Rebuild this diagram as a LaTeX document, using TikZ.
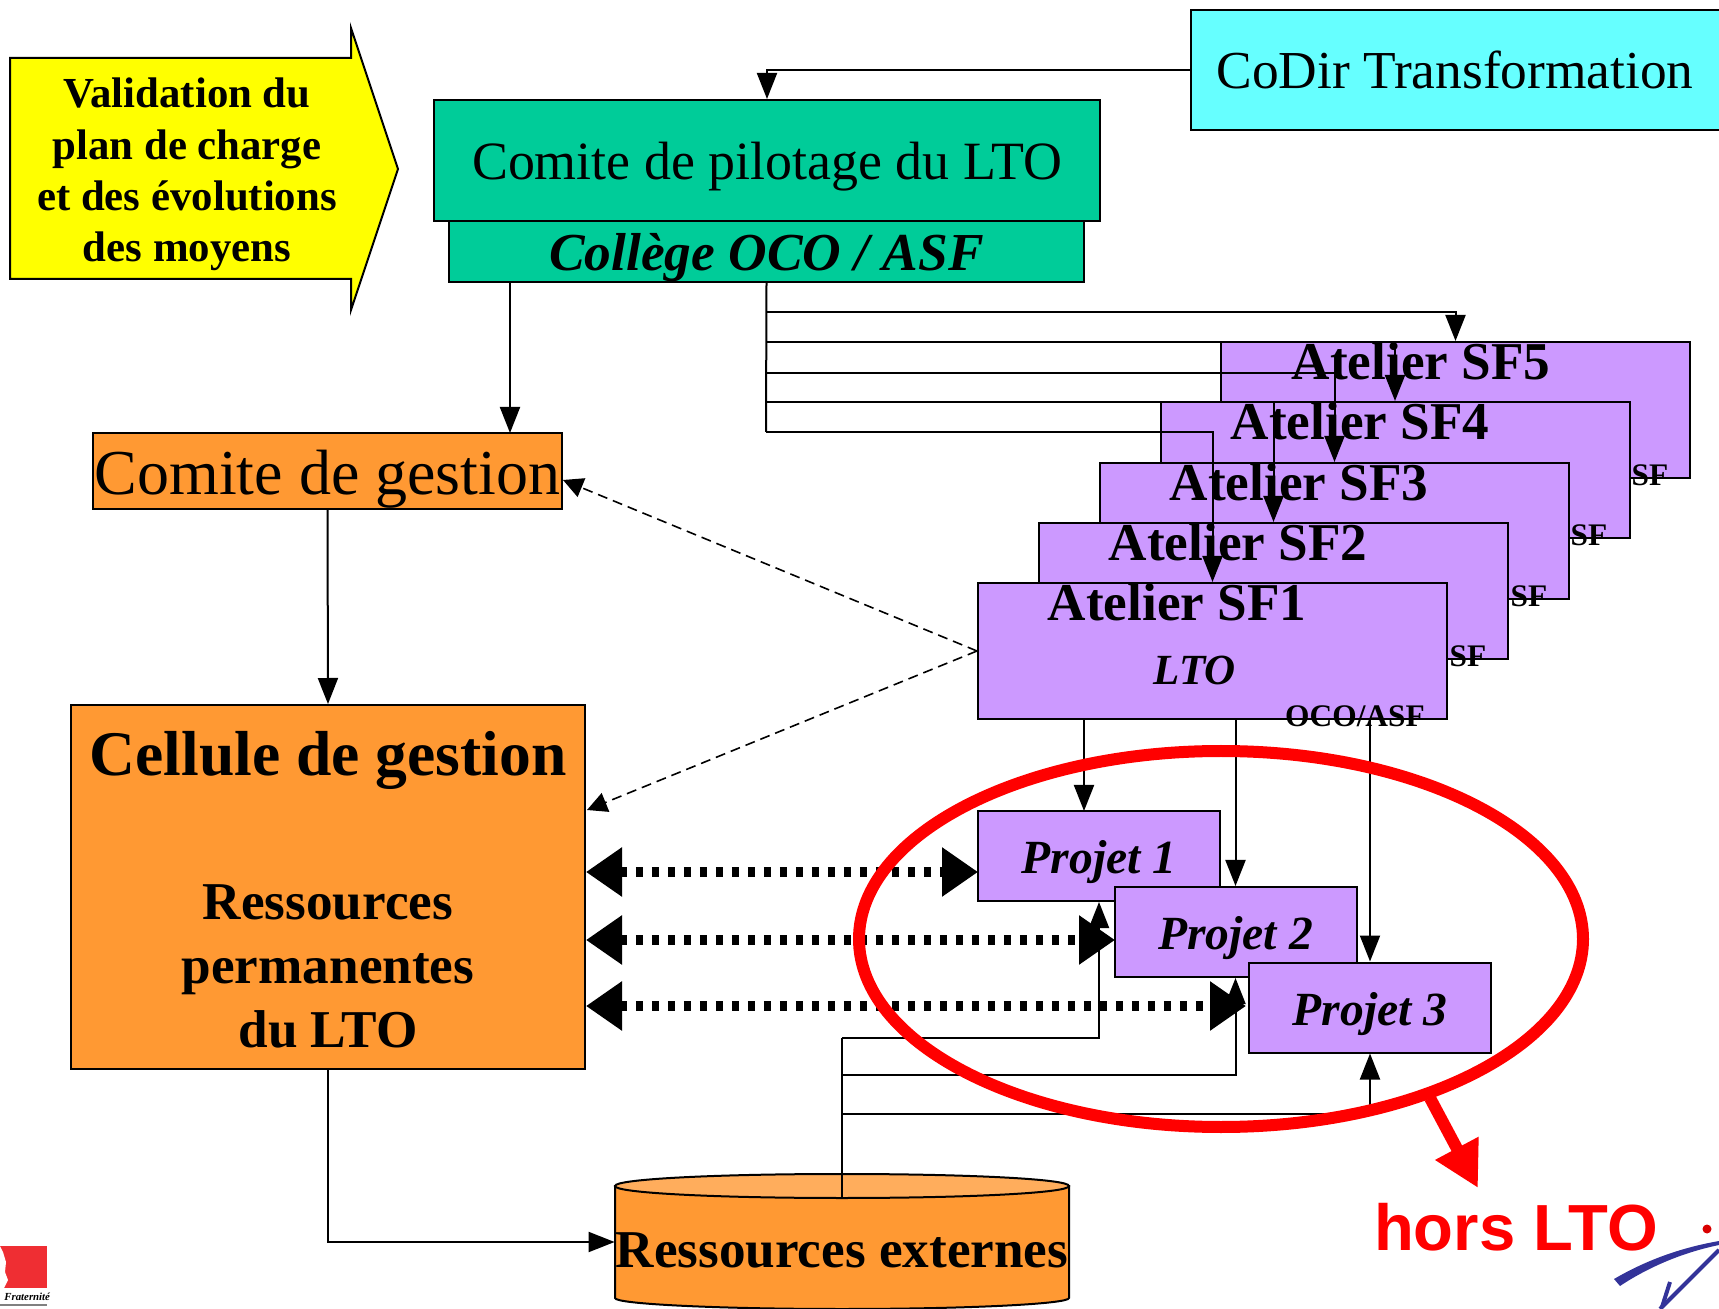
\documentclass[tikz,border=0pt]{standalone}
\usepackage{fontspec}
\setmainfont{Liberation Serif}
\newfontfamily\horsfont{Liberation Sans}
\usetikzlibrary{shapes.geometric,arrows.meta}
\definecolor{arrowyellow}{HTML}{FFFF00}
\definecolor{lightcyan}{HTML}{66FFFF}
\definecolor{teal}{HTML}{00CC99}
\definecolor{mauve}{HTML}{CC99FF}
\definecolor{orangebox}{HTML}{FF9933}
\definecolor{orangetop}{HTML}{FFAD5C}
\definecolor{marine}{HTML}{333399}
\definecolor{logored}{HTML}{EF2E33}
\newcommand{\fsize}[1]{\fontsize{#1}{#1}\selectfont}

\begin{document}
\begin{tikzpicture}[x=0.5pt,y=-0.5pt,
    box/.style={shape=rectangle, draw, line width=1pt, inner sep=0pt},
    atelier/.style={box, fill=mauve, minimum width=234.5pt, minimum height=68pt},
    atelierlabel/.style={font=\fsize{26.6}\bfseries, inner sep=0pt},
    sflabel/.style={font=\fsize{15.7}\bfseries, inner sep=0pt},
    projet/.style={box, fill=mauve, minimum width=121pt, minimum height=45pt, text height=22pt, text depth=4.4pt, font=\fsize{23.8}\bfseries\itshape},
    link/.style={line width=1pt, -{Triangle[length=13pt,width=10pt]}},
    dashlink/.style={line width=0.8pt, dash pattern=on 5pt off 3pt, -{Triangle[length=10pt,width=10pt]}},
    dotlink/.style={line width=5pt, dash pattern=on 3.5pt off 4.5pt,
      {Triangle[length=18pt,width=23.5pt]}-{Triangle[length=18pt,width=23.5pt]}}]
    \useasboundingbox (0,0) rectangle (1719,1309);

    % top boxes
    \node[box, fill=lightcyan, minimum width=264.5pt, minimum height=60pt, text height=24.5pt, text depth=5.8pt, font=\fsize{26.7}] (codir) at (1455,70) {CoDir Transformation};
    \node[box, fill=teal, minimum width=333pt, minimum height=60.5pt, text height=24.8pt, text depth=5.8pt, font=\fsize{26.95}] (copil) at (767,160.5) {Comite de pilotage du LTO};
    \node[box, fill=teal, minimum width=317.5pt, minimum height=30.5pt, text height=24pt, text depth=5pt, font=\fsize{26.7}\bfseries\itshape] (college) at (766.5,251.5) {Collège OCO / ASF};
    \draw[line width=1pt, fill=arrowyellow] (10,58) -- (351,58) -- (351,28) -- (398,169) -- (351,310) -- (351,279) -- (10,279) -- cycle;
    \node[align=center, font=\fontsize{21.4}{25.7}\selectfont\bfseries] (valid) at (187,174.5) {Validation du\\plan de charge\\et des évolutions\\des moyens};

    % left column
    \node[box, fill=orangebox, minimum width=234.5pt, minimum height=38pt, text height=30pt, text depth=6.4pt, font=\fsize{32}] (gestion) at (327.5,471) {Comite de gestion};
    \node[box, fill=orangebox, minimum width=257pt, minimum height=182pt] (cellule) at (328,887) {};
    \node[font=\fsize{31.8}\bfseries] (celltitle) at (328,760.5) {Cellule de gestion};
    \node[align=center, font=\fontsize{26.6}{32}\selectfont\bfseries] (cellres) at (328,966) {Ressources\\permanentes\\du LTO};

    % cylinder
    \draw[line width=1pt, fill=orangebox] (615,1186) -- (615,1298) .. controls (615,1304) and (717,1309) .. (842,1309)
      .. controls (967,1309) and (1069,1304) .. (1069,1298) -- (1069,1186) -- cycle;
    \draw[line width=1pt, fill=orangetop] (615,1186) .. controls (615,1179) and (717,1174) .. (842,1174)
      .. controls (967,1174) and (1069,1179) .. (1069,1186) .. controls (1069,1193) and (967,1198) .. (842,1198)
      .. controls (717,1198) and (615,1193) .. (615,1186) -- cycle;
    \node[minimum width=227pt, minimum height=56pt, inner sep=0pt, font=\fsize{26.6}\bfseries] (extern) at (842,1250) {Ressources externes};

    % ateliers
    \node[atelier] (sf5) at (1455.5,410) {};
    \node[atelier] (sf4) at (1395,470) {};
    \node[atelier] (sf3) at (1334.5,531) {};
    \node[atelier] (sf2) at (1273.5,591) {};
    \node[atelier] (sf1) at (1212.5,651) {};

    \node[sflabel] (sflab5) at (1650,475) {SF};
    \node[sflabel] (sflab4) at (1589,535) {SF};
    \node[sflabel] (sflab3) at (1529,596) {SF};
    \node[sflabel] (sflab2) at (1468,656) {SF};
    \node[font=\fsize{21.5}\bfseries\itshape, inner sep=0pt] (lto) at (1195,670) {LTO};

    % projets
    \node[projet] (proj1) at (1099,856) {Projet 1};
    \node[projet] (proj2) at (1235.5,932) {Projet 2};
    \node[projet] (proj3) at (1370,1007.5) {Projet 3};

    % copil and ateliers
    \draw[link] (codir.west) -- (codir.west -| copil.north) -- (copil.north);
    \coordinate (bus5) at (766,312);
    \coordinate (bus4) at (766,342);
    \coordinate (bus3) at (766,373);
    \coordinate (bus2) at (766,402);
    \coordinate (bus1) at (766,432);
    \draw[line width=1pt] (college.south) -- (bus1);
    \draw[link] (bus5) -- (bus5 -| sf5.north) -- (sf5.north);
    \draw[link] (bus4) -- (bus4 -| sf4.north) -- (sf4.north);
    \draw[link] (bus3) -- (bus3 -| sf3.north) -- (sf3.north);
    \draw[link] (bus2) -- (bus2 -| sf2.north) -- (sf2.north);
    \draw[link] (bus1) -- (bus1 -| sf1.north) -- (sf1.north);
    \coordinate (gestin) at (510,433);
    \draw[link] (college.south -| gestin) -- (gestin);
    \draw[link] (gestion.south) -- (cellule.north);
    \coordinate (elbow) at (328,1242);
    \draw[link] (cellule.south) -- (elbow) -- (elbow -| extern.west);

    \node[atelierlabel] (lab5) at (1421,361) {Atelier SF5};
    \node[atelierlabel] (lab4) at (1360,421) {Atelier SF4};
    \node[atelierlabel] (lab3) at (1299,482) {Atelier SF3};
    \node[atelierlabel] (lab2) at (1238,542) {Atelier SF2};
    \node[atelierlabel] (lab1) at (1177,602) {Atelier SF1};
    \node[sflabel] (oco) at (1355,716) {OCO/ASF};

    % dashed links
    \coordinate (gestdash) at (563,480);
    \coordinate (celldash) at (587,810);
    \draw[dashlink] (sf1.west) -- (gestdash);
    \draw[dashlink] (sf1.west) -- (celldash);

    % links to projets
    \coordinate (p1in) at (1084,811);
    \draw[link] (sf1.south -| p1in) -- (p1in);
    \draw[link] (sf1.south -| proj2.north) -- (proj2.north);
    \draw[link] (sf1.south -| proj3.north) -- (proj3.north);
    \coordinate (extop) at (842,1198);
    \coordinate (res1) at (842,1038);
    \coordinate (res2) at (842,1075);
    \coordinate (res3) at (842,1114);
    \draw[line width=1pt] (extop) -- (res1);
    \draw[link] (res1) -- (res1 -| proj1.south) -- (proj1.south);
    \draw[link] (res2) -- (res2 -| proj2.south) -- (proj2.south);
    \draw[link] (res3) -- (res3 -| proj3.south) -- (proj3.south);

    % dotted links
    \coordinate (dot1) at (978,872);
    \coordinate (dot2) at (1115,940);
    \coordinate (dot3) at (1246,1006);
    \draw[dotlink] (dot1 -| cellule.east) -- (dot1);
    \draw[dotlink] (dot2 -| cellule.east) -- (dot2);
    \draw[dotlink] (dot3 -| cellule.east) -- (dot3);

    % red ring
    \node[shape=ellipse, draw=red, line width=6pt, minimum width=362pt, minimum height=188pt, inner sep=0pt] (ring) at (1221,939) {};
    \coordinate (horstip) at (1478,1188);
    \draw[red, line width=6pt, -{Triangle[length=22.5pt,width=23pt]}] (1430,1098) -- (horstip);
    \node[anchor=base, red, font=\horsfont\fsize{32.6}\bfseries, inner sep=0pt] (hors) at (1516,1250) {hors LTO};

    % logo and signature
    \fill[logored] (0,1246) rectangle (47,1288);
    \fill[white] (0,1246) -- (3,1252) -- (6,1262) -- (5,1272) -- (8,1280) -- (4,1288) -- (0,1288) -- cycle;
    \node[anchor=west, inner sep=0pt, font=\fsize{5.4}\bfseries\itshape] (frat) at (4,1297) {Fraternité};
    \fill[gray] (0,1304) rectangle (47,1306);
    \fill[red!85!black] (1707,1229) circle (4.5);
    \fill[marine] (1614,1279) .. controls (1650,1258) and (1685,1247) .. (1719,1241) -- (1719,1245)
      .. controls (1685,1252) and (1650,1266) .. (1620,1286) -- cycle;
    \draw[marine, line width=2pt] (1719,1250) -- (1660,1309);
    \draw[marine, line width=2pt] (1670,1282) -- (1662,1307);
  \end{tikzpicture}
\end{document}
